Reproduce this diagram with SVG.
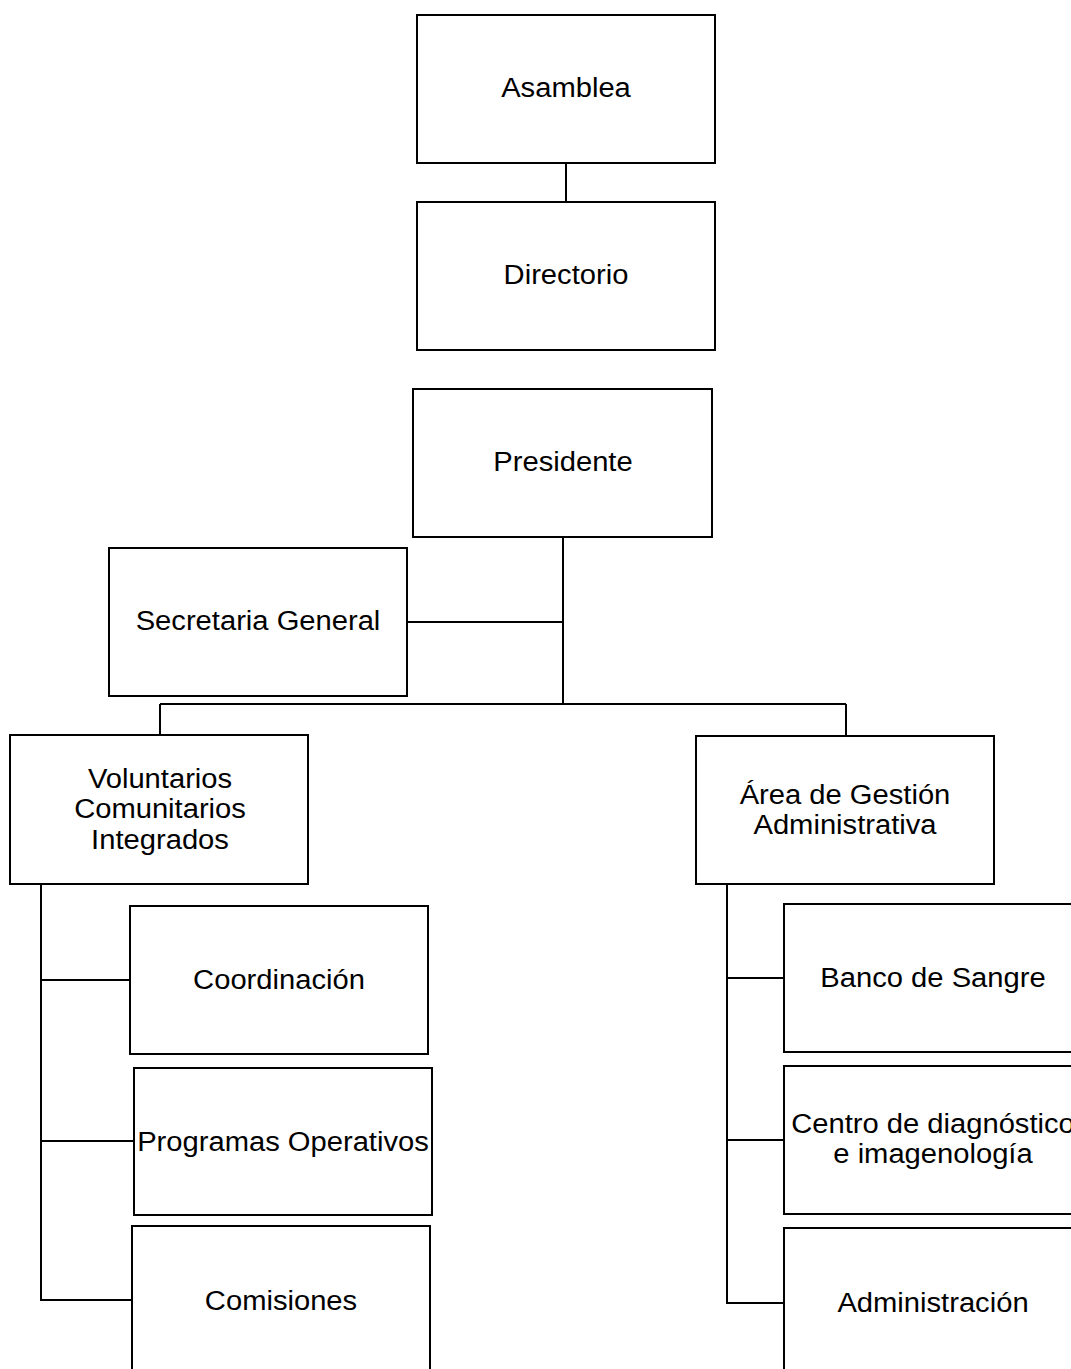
<svg xmlns="http://www.w3.org/2000/svg" width="1071" height="1369" viewBox="0 0 1071 1369">
<style>
.box{fill:#fff;stroke:#000;stroke-width:2}
.ln{fill:none;stroke:#000;stroke-width:2}
.t{font-family:"Liberation Sans",Arial,sans-serif;font-size:27px;fill:#000;text-anchor:middle}
</style>
<rect width="1071" height="1369" fill="#fff"/>
<g id="connectors">
<path class="ln" d="M566 163V202"/>
<path class="ln" d="M563 537V704M407 622H563M160 704H846M160 704V735M846 704V736"/>
<path class="ln" d="M41 884V1300H132M41 980H130M41 1141H134"/>
<path class="ln" d="M727 884V1303H784M727 978H784M727 1140H784"/>
</g>
<g id="asamblea"><rect class="box" x="417" y="15" width="298" height="148"/><text class="t" transform="translate(566,97) scale(1.08,1)">Asamblea</text></g>
<g id="directorio"><rect class="box" x="417" y="202" width="298" height="148"/><text class="t" transform="translate(566,284) scale(1.08,1)">Directorio</text></g>
<g id="presidente"><rect class="box" x="413" y="389" width="299" height="148"/><text class="t" transform="translate(563,471) scale(1.08,1)">Presidente</text></g>
<g id="secretaria"><rect class="box" x="109" y="548" width="298" height="148"/><text class="t" transform="translate(258,630) scale(1.08,1)">Secretaria General</text></g>
<g id="voluntarios"><rect class="box" x="10" y="735" width="298" height="149"/>
<text class="t" transform="translate(160,788) scale(1.08,1)">Voluntarios</text>
<text class="t" transform="translate(160,818) scale(1.08,1)">Comunitarios</text>
<text class="t" transform="translate(160,849) scale(1.08,1)">Integrados</text></g>
<g id="area"><rect class="box" x="696" y="736" width="298" height="148"/>
<text class="t" transform="translate(845,804) scale(1.08,1)">Área de Gestión</text>
<text class="t" transform="translate(845,834) scale(1.08,1)">Administrativa</text></g>
<g id="coordinacion"><rect class="box" x="130" y="906" width="298" height="148"/><text class="t" transform="translate(279,989) scale(1.08,1)">Coordinación</text></g>
<g id="programas"><rect class="box" x="134" y="1068" width="298" height="147"/><text class="t" transform="translate(283,1151) scale(1.08,1)">Programas Operativos</text></g>
<g id="comisiones"><rect class="box" x="132" y="1226" width="298" height="160"/><text class="t" transform="translate(281,1310) scale(1.08,1)">Comisiones</text></g>
<g id="banco"><rect class="box" x="784" y="904" width="298" height="148"/><text class="t" transform="translate(933,987) scale(1.08,1)">Banco de Sangre</text></g>
<g id="centro"><rect class="box" x="784" y="1066" width="298" height="148"/>
<text class="t" transform="translate(933,1133) scale(1.08,1)">Centro de diagnóstico</text>
<text class="t" transform="translate(933,1163) scale(1.08,1)">e imagenología</text></g>
<g id="administracion"><rect class="box" x="784" y="1228" width="298" height="160"/><text class="t" transform="translate(933,1312) scale(1.08,1)">Administración</text></g>
</svg>
